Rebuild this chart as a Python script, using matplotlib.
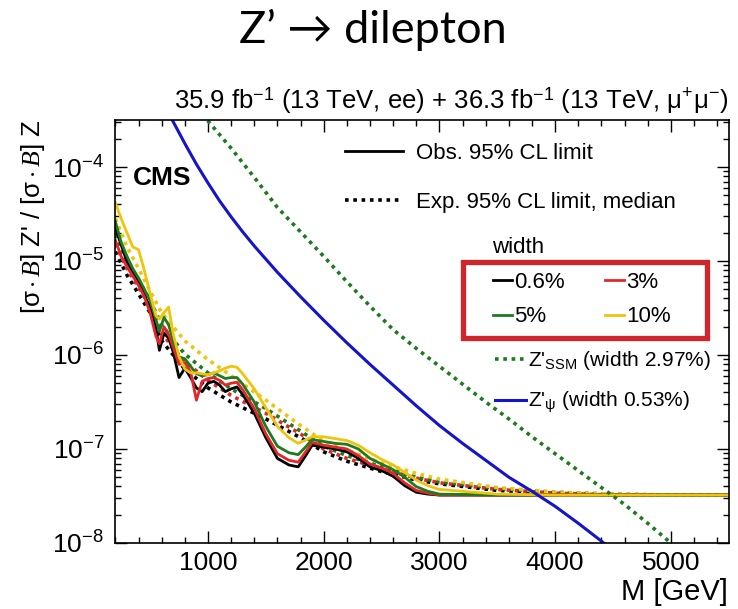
import numpy as np
import matplotlib
matplotlib.use("Agg")
import matplotlib.pyplot as plt
from matplotlib.lines import Line2D
from matplotlib.patches import Rectangle
from matplotlib.ticker import LogLocator, MultipleLocator, NullFormatter

# ---------------- data (log10 of the ratio) ----------------
M_obs = [200, 250, 300, 350, 400, 450, 500, 550, 580, 620, 660, 700, 750, 800, 850, 900,
         950, 1000, 1050, 1100, 1150, 1200, 1250, 1300, 1400, 1500, 1600, 1700, 1780, 1850,
         1900, 2000, 2100, 2200, 2300, 2400, 2500, 2600, 2700, 2800, 2900, 3000, 3500, 4000,
         4500, 5000, 5500]
obs_w06_log10 = [-4.65, -4.83, -5.01, -5.12, -5.22, -5.36, -5.50, -5.71, -5.95, -5.77, -5.82,
                 -5.97, -6.24, -6.14, -6.24, -6.35, -6.39, -6.30, -6.28, -6.32, -6.39, -6.36,
                 -6.34, -6.42, -6.62, -6.88, -7.10, -7.17, -7.19, -7.06, -6.96, -6.98, -7.00,
                 -7.03, -7.10, -7.19, -7.23, -7.29, -7.39, -7.46, -7.48, -7.49, -7.49, -7.49,
                 -7.49, -7.49, -7.49]
obs_w3_log10 = [-4.78, -4.95, -5.06, -5.16, -5.26, -5.38, -5.55, -5.80, -5.88, -5.70, -5.78,
                -5.92, -6.10, -6.08, -6.18, -6.48, -6.28, -6.25, -6.24, -6.27, -6.32, -6.30,
                -6.29, -6.37, -6.57, -6.84, -7.05, -7.12, -7.14, -7.02, -6.93, -6.96, -6.98,
                -7.00, -7.07, -7.16, -7.20, -7.26, -7.36, -7.44, -7.47, -7.49, -7.49, -7.49,
                -7.49, -7.49, -7.49]
obs_w5_log10 = [-4.58, -4.80, -4.95, -5.08, -5.18, -5.30, -5.42, -5.62, -5.75, -5.60, -5.68,
                -5.85, -6.02, -6.04, -6.12, -6.20, -6.22, -6.21, -6.19, -6.22, -6.25, -6.24,
                -6.24, -6.31, -6.50, -6.76, -6.97, -7.04, -7.06, -6.97, -6.90, -6.92, -6.94,
                -6.95, -7.00, -7.10, -7.16, -7.22, -7.30, -7.40, -7.45, -7.48, -7.49, -7.49,
                -7.49, -7.49, -7.49]
obs_w10_log10 = [-4.38, -4.55, -4.70, -4.85, -4.88, -5.10, -5.35, -5.58, -5.62, -5.55, -5.49,
                 -5.78, -6.02, -6.15, -6.19, -6.19, -6.20, -6.21, -6.19, -6.17, -6.14, -6.12,
                 -6.13, -6.20, -6.36, -6.56, -6.76, -6.88, -6.94, -6.90, -6.87, -6.87, -6.89,
                 -6.91, -6.96, -7.04, -7.11, -7.17, -7.25, -7.33, -7.39, -7.43, -7.48, -7.49,
                 -7.49, -7.49, -7.49]

M_exp = [200, 300, 400, 500, 600, 700, 800, 1000, 1200, 1500, 1800, 2000, 2200, 2500, 2800,
         3000, 3500, 4000, 4500, 5000, 5500]
exp_w06_log10 = [-4.90, -5.15, -5.35, -5.55, -5.85, -6.00, -6.15, -6.35, -6.50, -6.68, -6.88,
                 -7.03, -7.13, -7.24, -7.33, -7.37, -7.44, -7.47, -7.49, -7.49, -7.49]
exp_w3_log10 = [-4.82, -5.08, -5.28, -5.48, -5.76, -5.93, -6.07, -6.27, -6.43, -6.62, -6.84,
                -7.00, -7.10, -7.21, -7.31, -7.36, -7.43, -7.47, -7.49, -7.49, -7.49]
exp_w5_log10 = [-4.72, -5.00, -5.20, -5.42, -5.68, -5.84, -5.99, -6.19, -6.36, -6.57, -6.81,
                -6.97, -7.07, -7.19, -7.30, -7.35, -7.42, -7.46, -7.48, -7.49, -7.49]
exp_w10_log10 = [-4.55, -4.85, -5.08, -5.32, -5.55, -5.70, -5.85, -6.05, -6.22, -6.48, -6.75,
                 -6.92, -7.01, -7.15, -7.26, -7.32, -7.41, -7.46, -7.48, -7.49, -7.49]

M_ssm = [950, 1000, 1200, 1400, 1600, 1800, 2000, 2200, 2400, 2600, 2800, 3000, 3200, 3400,
         3600, 3800, 4000, 4200, 4400, 4600, 4800, 5000, 5100]
ssm_log10 = [-3.44, -3.51, -3.80, -4.11, -4.43, -4.69, -4.95, -5.22, -5.48, -5.73, -5.93,
             -6.12, -6.31, -6.50, -6.68, -6.87, -7.05, -7.23, -7.41, -7.59, -7.79, -8.00, -8.10]
M_psi = [650, 700, 800, 900, 1000, 1100, 1200, 1300, 1400, 1500, 1600, 1800, 2000, 2200,
         2400, 2600, 2800, 3000, 3200, 3400, 3600, 3800, 4000, 4200, 4400, 4500]
psi_log10 = [-3.41, -3.52, -3.75, -3.97, -4.17, -4.36, -4.53, -4.69, -4.84, -4.98, -5.12,
             -5.38, -5.63, -5.87, -6.10, -6.32, -6.54, -6.75, -6.94, -7.12, -7.30, -7.45,
             -7.61, -7.79, -7.98, -8.08]

width_labels = ["0.6%", "3%", "5%", "10%"]
width_colors = ["#000000", "#e3262b", "#1d7a1d", "#efc40c"]
obs_series = [obs_w06_log10, obs_w3_log10, obs_w5_log10, obs_w10_log10]
exp_series = [exp_w06_log10, exp_w3_log10, exp_w5_log10, exp_w10_log10]

# ---------------- style ----------------
plt.rcParams['font.family'] = ['Liberation Sans', 'DejaVu Sans']
plt.rcParams['mathtext.fontset'] = 'custom'
plt.rcParams['mathtext.rm'] = 'Liberation Sans'
plt.rcParams['mathtext.it'] = 'Liberation Serif:italic'
plt.rcParams['mathtext.sf'] = 'Liberation Sans'
plt.rcParams['mathtext.bf'] = 'Liberation Sans:bold'

W, H = 738, 609
fig = plt.figure(figsize=(W / 100, H / 100), dpi=100)


def fx(px):
    return px / W


def fy(py):
    return 1 - py / H


ax = fig.add_axes([fx(115.4), fy(543), fx(728.7) - fx(115.4), fy(120) - fy(543)])

dot = (0, (1.0, 1.3))
for s, c in zip(exp_series, width_colors):
    ax.plot(M_exp, 10 ** np.array(s), color=c, lw=2.6, ls=dot)
for s, c in zip(obs_series, width_colors):
    ax.plot(M_obs, 10 ** np.array(s), color=c, lw=2.0, solid_joinstyle='round')

ax.plot(M_ssm, 10 ** np.array(ssm_log10), color="#1d7a1d", lw=2.6, ls=dot)
ax.plot(M_psi, 10 ** np.array(psi_log10), color="#1414c8", lw=2.2)

ax.set_yscale('log')
ax.set_xlim(200, 5500)
ax.set_ylim(1e-8, 10 ** -3.5)
ax.xaxis.set_major_locator(MultipleLocator(1000))
ax.xaxis.set_minor_locator(MultipleLocator(200))
ax.yaxis.set_major_locator(LogLocator(base=10))
ax.yaxis.set_minor_locator(LogLocator(base=10, subs=np.arange(2, 10)))
ax.yaxis.set_minor_formatter(NullFormatter())
ax.tick_params(which='both', direction='in', top=True, right=True, labelsize=19, width=1.0)
ax.tick_params(which='major', length=8.6)
ax.tick_params(which='minor', length=4.3)
ax.tick_params(axis='x', pad=6)
ax.tick_params(axis='y', pad=8)
for sp in ax.spines.values():
    sp.set_linewidth(1.2)

# texts
fig.text(fx(373), fy(43), "Z’ → dilepton", ha='center', va='baseline', fontsize=32.5,
         family=['Lato', 'DejaVu Sans'])
fig.text(fx(729), fy(109),
         r"35.9 fb$^{-1}$ (13 TeV, ee) + 36.3 fb$^{-1}$ (13 TeV, $\mathrm{\mu^{+}\mu^{-}}$)",
         ha='right', va='baseline', fontsize=18.5)
fig.text(fx(728), fy(600), "M [GeV]", ha='right', va='baseline', fontsize=21)
fig.text(fx(33), fy(120), r"[$\mathrm{\sigma}\cdot\mathit{B}$] Z' / [$\mathrm{\sigma}\cdot\mathit{B}$] Z",
         rotation=90, ha='center', va='top', fontsize=18.5)
ax.text(0.029, 0.863, "CMS", transform=ax.transAxes, fontsize=19, fontweight='bold',
        ha='left', va='center')

# legend 1
h_obs = Line2D([], [], color='black', lw=2.0)
h_exp = Line2D([], [], color='black', lw=2.6, ls=dot)
leg1 = ax.legend([h_obs, h_exp], ["Obs. 95% CL limit", "Exp. 95% CL limit, median"],
                 loc='upper left', bbox_to_anchor=(fx(345), fy(143)), bbox_transform=fig.transFigure,
                 frameon=False, fontsize=16, handlelength=2.6, handletextpad=0.6,
                 labelspacing=1.25, borderpad=0, borderaxespad=0)
ax.add_artist(leg1)

# width legend
fig.text(fx(492), fy(247), "width", ha='left', va='center', fontsize=16)
order = [0, 2, 1, 3]
w_handles = [Line2D([], [], color=width_colors[i], lw=2.0) for i in order]
leg2 = ax.legend(w_handles, [width_labels[i] for i in order], ncol=2,
                 loc='upper left', bbox_to_anchor=(fx(493), fy(272)), bbox_transform=fig.transFigure,
                 frameon=False, fontsize=16, handlelength=0.85, handletextpad=0.1,
                 columnspacing=1.8, labelspacing=0.6, borderpad=0, borderaxespad=0)
ax.add_artist(leg2)
fig.add_artist(Rectangle((fx(463), fy(338)), fx(707) - fx(463), fy(262) - fy(338),
                         transform=fig.transFigure, fill=False, edgecolor="#d0262b", lw=3.8))

# legend 3
h_ssm = Line2D([], [], color="#1d7a1d", lw=2.6, ls=dot)
h_psi = Line2D([], [], color="#1414c8", lw=2.2)
leg3 = ax.legend([h_ssm, h_psi], [r"Z'$_{\mathrm{SSM}}$ (width 2.97%)", r"Z'$_{\mathrm{\psi}}$ (width 0.53%)"],
                 loc='upper left', bbox_to_anchor=(fx(495), fy(349)), bbox_transform=fig.transFigure,
                 frameon=False, fontsize=15, handlelength=1.5, handletextpad=0.1,
                 labelspacing=0.85, borderpad=0, borderaxespad=0)

fig.savefig("out.png", dpi=100)
